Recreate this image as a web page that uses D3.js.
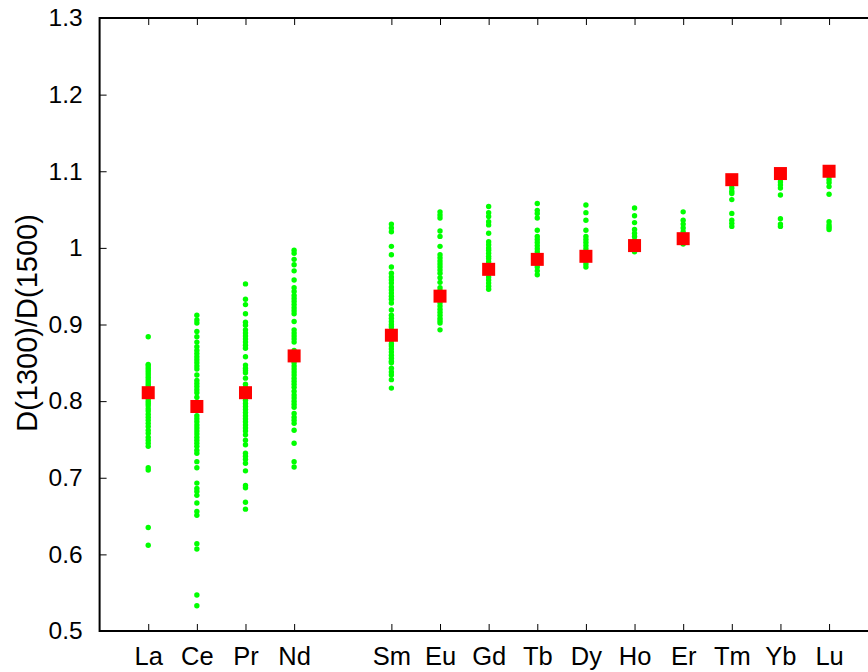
<!DOCTYPE html>
<html>
<head>
<meta charset="utf-8">
<script src="https://cdn.jsdelivr.net/npm/d3@7"></script>
<style>
  body { margin: 0; background: #fff; }
  svg { display: block; font-family: "Liberation Sans", Arial, sans-serif; }
</style>
</head>
<body>
<div id="chart"></div>
<script>
// elements and atomic numbers (Pm skipped)
var elements = ['La', 'Ce', 'Pr', 'Nd', 'Sm', 'Eu', 'Gd', 'Tb', 'Dy', 'Ho', 'Er', 'Tm', 'Yb', 'Lu'];
var atomicNo = [57, 58, 59, 60, 62, 63, 64, 65, 66, 67, 68, 69, 70, 71];

// mean ratio (red squares)
var meanRatio = [0.811, 0.793, 0.811, 0.859, 0.886, 0.937, 0.972, 0.985, 0.989, 1.003, 1.012, 1.089, 1.097, 1.100];

// individual ratios (green dots)
var laVals = [0.884, 0.848, 0.846, 0.843, 0.840, 0.837, 0.834, 0.831, 0.828, 0.825, 0.822, 0.819, 0.816, 0.813, 0.810, 0.806, 0.803, 0.800, 0.797, 0.794, 0.790, 0.787, 0.783, 0.779, 0.775, 0.771, 0.767, 0.762, 0.758, 0.753, 0.749, 0.745, 0.741, 0.713, 0.710, 0.635, 0.612];
var ceVals = [0.912, 0.906, 0.902, 0.891, 0.884, 0.877, 0.871, 0.866, 0.862, 0.858, 0.854, 0.850, 0.846, 0.842, 0.834, 0.827, 0.823, 0.819, 0.815, 0.811, 0.805, 0.799, 0.795, 0.788, 0.781, 0.777, 0.773, 0.769, 0.765, 0.761, 0.757, 0.753, 0.749, 0.745, 0.741, 0.736, 0.732, 0.721, 0.713, 0.693, 0.686, 0.682, 0.677, 0.667, 0.656, 0.651, 0.614, 0.607, 0.547, 0.533];
var prVals = [0.953, 0.933, 0.926, 0.914, 0.903, 0.899, 0.893, 0.889, 0.885, 0.881, 0.877, 0.873, 0.869, 0.858, 0.847, 0.843, 0.840, 0.837, 0.830, 0.822, 0.818, 0.814, 0.808, 0.801, 0.797, 0.793, 0.789, 0.785, 0.781, 0.777, 0.773, 0.769, 0.765, 0.761, 0.756, 0.749, 0.743, 0.732, 0.728, 0.724, 0.719, 0.709, 0.690, 0.687, 0.668, 0.659];
var ndVals = [0.997, 0.993, 0.985, 0.978, 0.970, 0.958, 0.948, 0.943, 0.938, 0.934, 0.930, 0.926, 0.922, 0.918, 0.914, 0.904, 0.893, 0.889, 0.885, 0.881, 0.877, 0.866, 0.850, 0.846, 0.842, 0.838, 0.834, 0.830, 0.826, 0.822, 0.818, 0.813, 0.808, 0.804, 0.800, 0.796, 0.792, 0.784, 0.779, 0.775, 0.771, 0.762, 0.745, 0.721, 0.714];
var smVals = [1.031, 1.026, 1.021, 1.002, 0.991, 0.975, 0.967, 0.962, 0.958, 0.954, 0.949, 0.945, 0.941, 0.937, 0.933, 0.928, 0.919, 0.912, 0.908, 0.904, 0.900, 0.897, 0.893, 0.889, 0.882, 0.879, 0.875, 0.872, 0.868, 0.864, 0.860, 0.856, 0.852, 0.850, 0.843, 0.838, 0.834, 0.828, 0.817];
var euVals = [1.047, 1.043, 1.039, 1.022, 1.015, 1.002, 0.991, 0.987, 0.983, 0.979, 0.975, 0.971, 0.967, 0.961, 0.955, 0.948, 0.944, 0.932, 0.928, 0.924, 0.920, 0.916, 0.912, 0.908, 0.905, 0.902, 0.893];
var gdVals = [1.054, 1.046, 1.041, 1.034, 1.030, 1.019, 1.008, 1.004, 1.000, 0.997, 0.993, 0.989, 0.986, 0.982, 0.978, 0.967, 0.962, 0.958, 0.954, 0.950, 0.946];
var tbVals = [1.058, 1.049, 1.045, 1.039, 1.023, 1.015, 1.011, 1.007, 1.003, 0.999, 0.995, 0.991, 0.979, 0.975, 0.970, 0.965];
var dyVals = [1.056, 1.046, 1.036, 1.023, 1.015, 1.011, 1.007, 1.003, 0.999, 0.995, 0.991, 0.983, 0.979, 0.975];
var hoVals = [1.052, 1.042, 1.033, 1.024, 1.019, 1.015, 1.010, 0.998, 0.995];
var erVals = [1.047, 1.036, 1.031, 1.026, 1.021, 1.016, 1.005];
var tmVals = [1.082, 1.078, 1.074, 1.071, 1.063, 1.045, 1.036, 1.032, 1.028];
var ybVals = [1.090, 1.086, 1.082, 1.078, 1.069, 1.038, 1.031, 1.028];
var luVals = [1.093, 1.089, 1.085, 1.080, 1.070, 1.034, 1.030, 1.027, 1.024];

var allVals = [laVals, ceVals, prVals, ndVals, smVals, euVals, gdVals, tbVals, dyVals, hoVals, erVals, tmVals, ybVals, luVals];

var yTicks = [0.5, 0.6, 0.7, 0.8, 0.9, 1.0, 1.1, 1.2, 1.3];

var width = 868, height = 672;
var pLeft = 99.6, pRight = 877.7, pTop = 18, pBottom = 631;

var svg = d3.select('#chart').append('svg')
    .attr('width', width)
    .attr('height', height);

var x = d3.scaleLinear().domain([56, 72]).range([pLeft, pRight]);
var y = d3.scaleLinear().domain([0.5, 1.3]).range([pBottom, pTop]);

function fmtY(d) { return d === 1 ? '1' : d3.format('.1f')(d); }

// axes (ticks point inward)
var xAxis = d3.axisBottom(x).tickValues(atomicNo)
    .tickFormat(function (d, i) { return elements[i]; })
    .tickSizeInner(-7).tickSizeOuter(0).tickPadding(16);
var xTop = d3.axisTop(x).tickValues(atomicNo).tickFormat('')
    .tickSizeInner(-7).tickSizeOuter(0);
var yAxis = d3.axisLeft(y).tickValues(yTicks).tickFormat(fmtY)
    .tickSizeInner(-7).tickSizeOuter(0).tickPadding(17);
var yRight = d3.axisRight(y).tickValues(yTicks).tickFormat('')
    .tickSizeInner(-7).tickSizeOuter(0);

function styleAxis(g, size) {
    g.select('.domain').remove();
    g.selectAll('.tick line').attr('stroke', '#000').attr('stroke-width', 1);
    g.selectAll('.tick text').attr('fill', '#000').style('font-size', size + 'px')
        .style('font-family', '"Liberation Sans", Arial, sans-serif');
}

svg.append('g').attr('transform', 'translate(0,' + pBottom + ')').call(xAxis).call(styleAxis, 25.5);
svg.append('g').attr('transform', 'translate(0,' + pTop + ')').call(xTop).call(styleAxis, 25);
svg.append('g').attr('transform', 'translate(' + pLeft + ',0)').call(yAxis).call(styleAxis, 24.5);
svg.append('g').attr('transform', 'translate(' + pRight + ',0)').call(yRight).call(styleAxis, 25);

// green dots
var dots = [];
allVals.forEach(function (vals, i) {
    vals.forEach(function (v) { dots.push({ z: atomicNo[i], v: v }); });
});

svg.append('g').selectAll('circle')
    .data(dots)
    .enter().append('circle')
    .attr('cx', function (d) { return x(d.z); })
    .attr('cy', function (d) { return y(d.v); })
    .attr('r', 2.7)
    .attr('fill', '#00ff00');

// red squares
var sq = 13;
svg.append('g').selectAll('rect')
    .data(meanRatio)
    .enter().append('rect')
    .attr('x', function (d, i) { return x(atomicNo[i]) - sq / 2; })
    .attr('y', function (d) { return y(d) - sq / 2; })
    .attr('width', sq)
    .attr('height', sq)
    .attr('fill', '#ff0000');

// frame
svg.append('rect')
    .attr('x', pLeft).attr('y', pTop)
    .attr('width', pRight - pLeft).attr('height', pBottom - pTop)
    .attr('fill', 'none').attr('stroke', '#000').attr('stroke-width', 2);

// y label
svg.append('text')
    .attr('transform', 'translate(37,323) rotate(-90)')
    .attr('text-anchor', 'middle')
    .style('font-size', '29px')
    .text('D(1300)/D(1500)');
</script>
</body>
</html>
